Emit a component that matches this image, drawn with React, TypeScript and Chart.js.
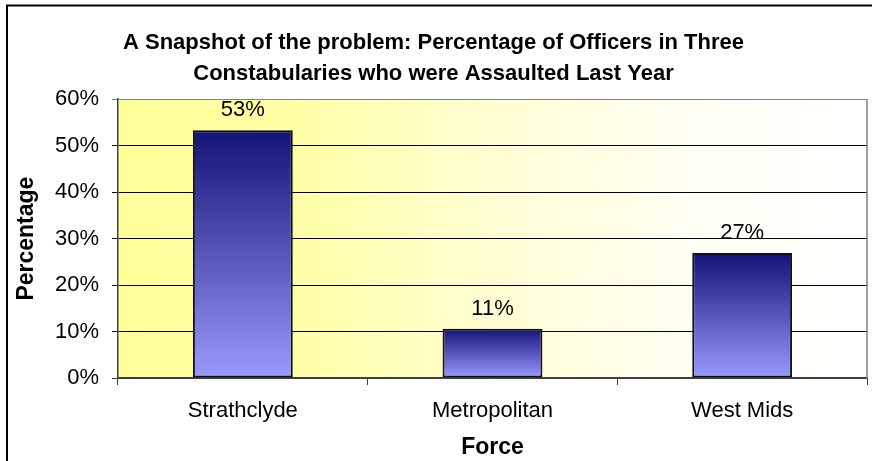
import React, { useEffect, useRef } from "react";
import { Chart, registerables } from "chart.js";

Chart.register(...registerables);

const titleLines = [
  "A Snapshot of the problem: Percentage of Officers in Three",
  "Constabularies who were Assaulted Last Year",
];
const categories = ["Strathclyde", "Metropolitan", "West Mids"];
const values = [53.3, 10.6, 26.9];
const valueLabels = ["53%", "11%", "27%"];
const yMin = 0;
const yMax = 60;
const yStep = 10;
const yAxisTitle = "Percentage";
const xAxisTitle = "Force";

const FONT = "'Liberation Sans', Arial, sans-serif";

const framePlugin = {
  id: "frame",
  beforeDraw(chart: any) {
    const { ctx, chartArea: a, width, height } = chart;
    ctx.save();
    ctx.fillStyle = "#ffffff";
    ctx.fillRect(0, 0, width, height);
    const g = ctx.createLinearGradient(a.left, 0, a.right, 0);
    g.addColorStop(0, "#ffff99");
    g.addColorStop(0.25, "#ffffa8");
    g.addColorStop(0.5, "#fffed2");
    g.addColorStop(0.75, "#fffff2");
    g.addColorStop(1, "#ffffff");
    ctx.fillStyle = g;
    ctx.fillRect(a.left, a.top, a.right - a.left, a.bottom - a.top);
    ctx.restore();
  },
  afterDraw(chart: any) {
    const { ctx, chartArea: a } = chart;
    ctx.save();
    ctx.strokeStyle = "#808080";
    ctx.lineWidth = 1.5;
    ctx.beginPath();
    ctx.moveTo(a.right, a.top);
    ctx.lineTo(a.right, a.bottom);
    ctx.stroke();
    ctx.strokeStyle = "#000000";
    ctx.lineWidth = 2;
    ctx.strokeRect(7, 5.5, 1000, 1000);
    ctx.restore();
  },
};

const valueLabelPlugin = {
  id: "valueLabels",
  afterDatasetsDraw(chart: any) {
    const { ctx } = chart;
    const meta = chart.getDatasetMeta(0);
    ctx.save();
    ctx.fillStyle = "#000000";
    ctx.font = `22px ${FONT}`;
    ctx.textAlign = "center";
    ctx.textBaseline = "middle";
    meta.data.forEach((el: any, i: number) => {
      ctx.fillText(valueLabels[i], el.x, el.y - 20);
    });
    ctx.restore();
  },
};

export default function App() {
  const ref = useRef<HTMLCanvasElement>(null);

  useEffect(() => {
    if (!ref.current) return;
    const chart = new Chart(ref.current, {
      type: "bar",
      data: {
        labels: categories,
        datasets: [
          {
            data: values,
            backgroundColor: (c: any) => {
              const ch = c.chart;
              const y = ch.scales && ch.scales.y;
              if (!y || c.raw === undefined) return "#5555bb";
              const top = y.getPixelForValue(c.raw);
              const bottom = y.getPixelForValue(0);
              if (!Number.isFinite(top) || !Number.isFinite(bottom) || top === bottom) return "#5555bb";
              const g = ch.ctx.createLinearGradient(0, top, 0, bottom);
              g.addColorStop(0, "#121277");
              g.addColorStop(1, "#9999ff");
              return g;
            },
            borderColor: "#111111",
            borderWidth: 2,
            borderSkipped: false,
            barPercentage: 0.4,
            categoryPercentage: 1,
          },
        ],
      },
      options: {
        responsive: false,
        animation: false,
        layout: { padding: { left: 0, right: 5, top: 0, bottom: 0 } },
        plugins: {
          legend: { display: false },
          tooltip: { enabled: false },
          title: {
            display: true,
            text: titleLines,
            color: "#000000",
            font: { family: FONT, size: 22, weight: "bold", lineHeight: 1.436 },
            padding: { top: 27, bottom: 9 },
          },
        },
        scales: {
          x: {
            afterFit: (s: any) => {
              s.height = 83;
            },
            grid: {
              offset: true,
              drawOnChartArea: false,
              drawTicks: true,
              tickLength: 7,
              color: "#404040",
            },
            border: { color: "#404040", width: 1.5 },
            ticks: {
              color: "#000000",
              font: { family: FONT, size: 22 },
              padding: 13,
            },
            title: {
              display: true,
              text: xAxisTitle,
              color: "#000000",
              font: { family: FONT, size: 23, weight: "bold" },
              padding: { top: 0, bottom: 0 },
            },
          },
          y: {
            min: yMin,
            max: yMax,
            afterFit: (s: any) => {
              s.width = 118;
            },
            grid: {
              drawTicks: true,
              tickLength: 6,
              color: (c: any) =>
                c.tick && c.tick.value === yMax ? "#808080" : c.tick && c.tick.value === yMin ? "#404040" : "#000000",
              lineWidth: 1,
            },
            border: { color: "#404040", width: 1.5 },
            ticks: {
              stepSize: yStep,
              color: "#000000",
              font: { family: FONT, size: 22 },
              padding: 13,
              callback: (v: any) => `${v}%`,
            },
            title: {
              display: true,
              text: yAxisTitle,
              color: "#000000",
              font: { family: FONT, size: 23, weight: "bold" },
              padding: { top: 13, bottom: 0 },
            },
          },
        },
      },
      plugins: [framePlugin, valueLabelPlugin],
    });
    return () => chart.destroy();
  }, []);

  return (
    <div style={{ position: "fixed", left: 0, top: 0, width: 872, height: 461, background: "#fff" }}>
      <canvas ref={ref} width={872} height={461} style={{ display: "block" }} />
    </div>
  );
}
